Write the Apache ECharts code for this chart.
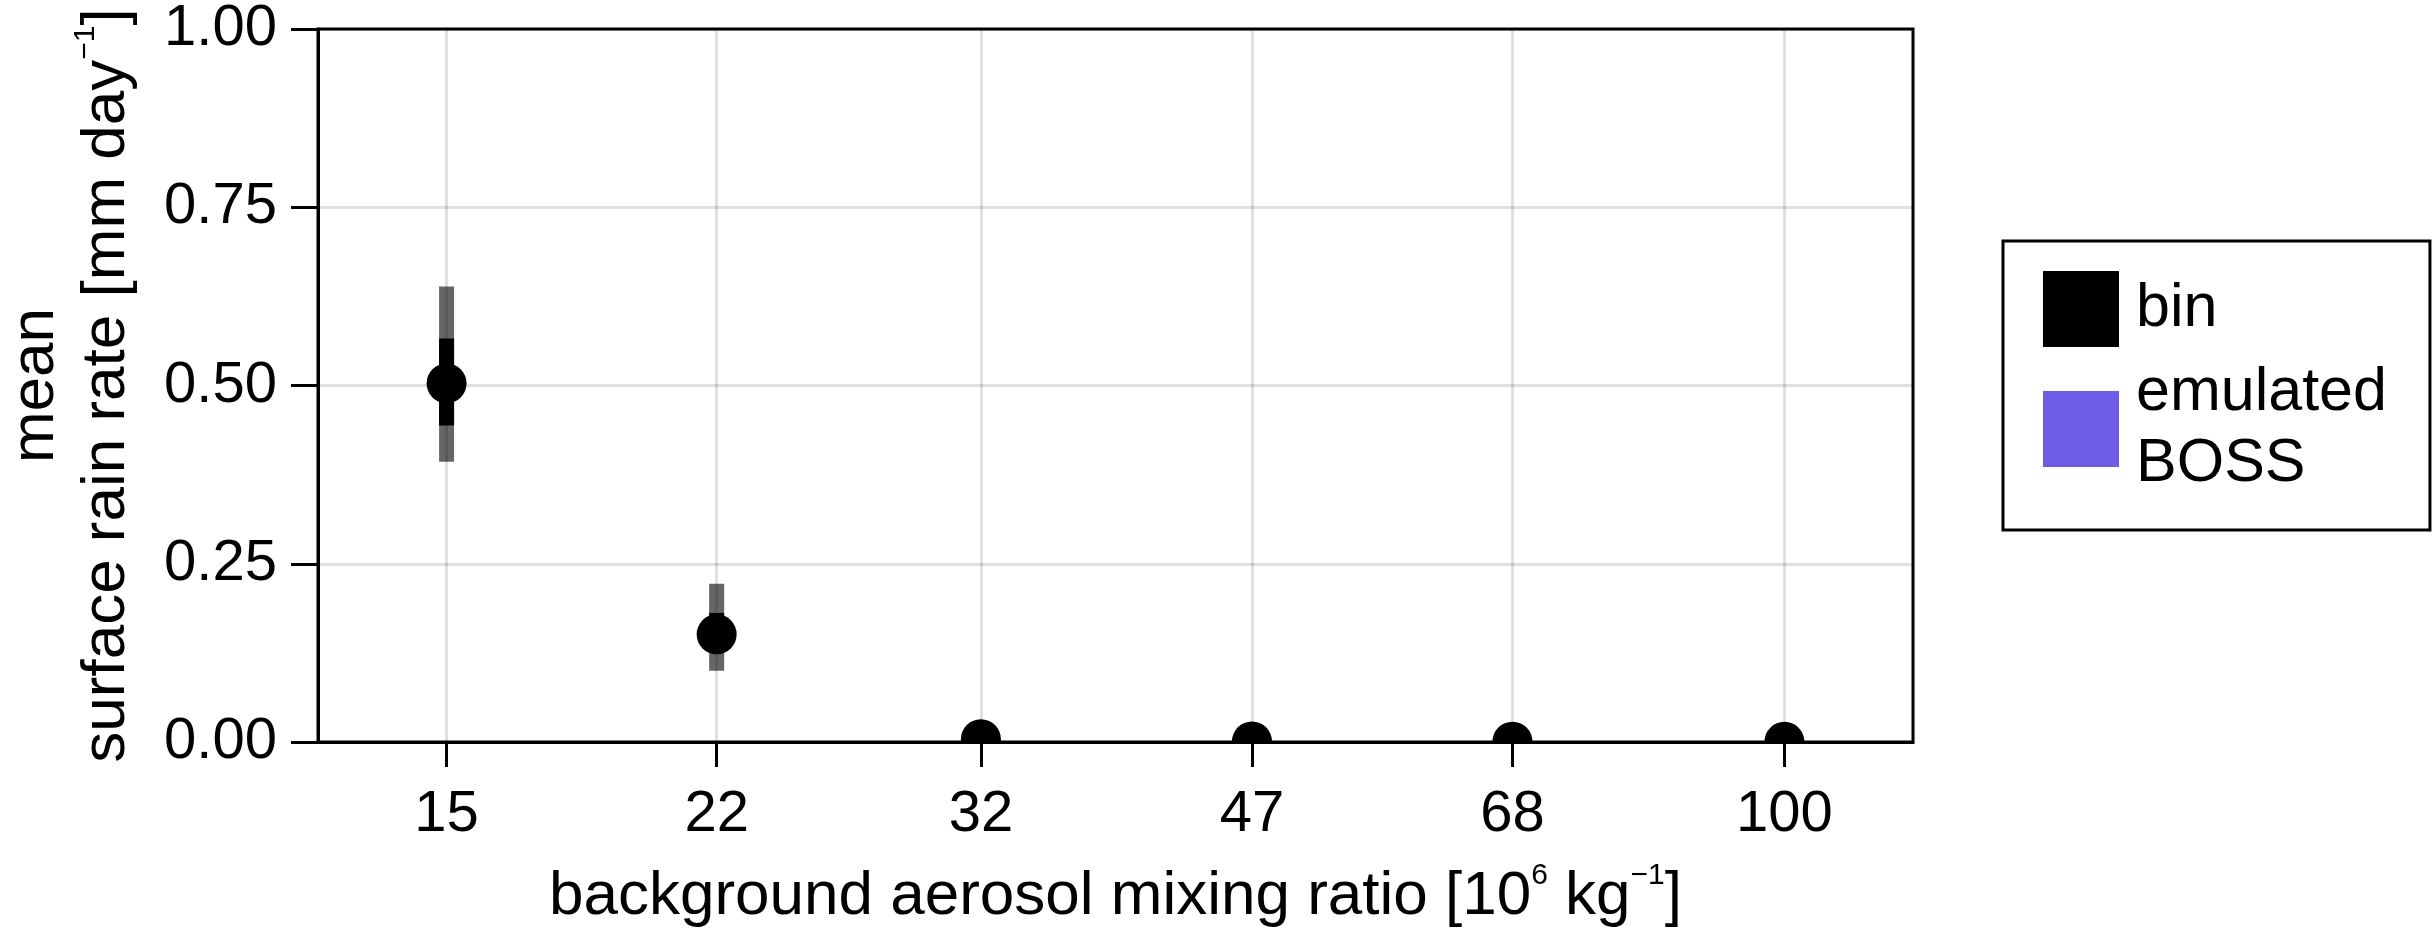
<!DOCTYPE html>
<html><head><meta charset="utf-8">
<script src="https://cdn.jsdelivr.net/npm/echarts@6/dist/echarts.min.js"></script>
<style>html,body{margin:0;padding:0;background:#fff}#c{width:2435px;height:929px}</style>
</head><body><div id="c"></div>
<script>
// ---- data ----
const aerosol = [15, 22, 32, 47, 68, 100];
const xTickLabels = [15, 22, 32, 47, 68, 100];
const binMean    = [0.503, 0.151, 0.004, 0.0008, 0.0005, 0.0003];
const binOuterLo = [0.393, 0.100, 0.001, 0.0, 0.0, 0.0];
const binOuterHi = [0.639, 0.222, 0.008, 0.002, 0.001, 0.001];
const binInnerLo = [0.444, 0.125, 0.002, 0.0, 0.0, 0.0];
const binInnerHi = [0.566, 0.181, 0.006, 0.0015, 0.001, 0.0008];
const emulatedBOSS = [];
const xRange = [12.5, 120];
const yRange = [0, 1];
const yInterval = 0.25;

const FONT = 'Liberation Sans, Arial, Helvetica, sans-serif';
const log10 = Math.log10;

const binData = aerosol.map((a, i) => [log10(a), binMean[i], binOuterLo[i], binOuterHi[i], binInnerLo[i], binInnerHi[i]]);

const nameRich = {
  sup: {fontFamily: FONT, fontSize: 30, lineHeight: 47, verticalAlign: 'top', color: '#000'}
};

const chart = echarts.init(document.getElementById('c'), null, {renderer: 'canvas'});
chart.setOption({
  animation: false,
  backgroundColor: '#fff',
  textStyle: {fontFamily: FONT},
  grid: {left: 318, top: 29, width: 1595, height: 713, show: true, borderColor: '#000', borderWidth: 3, backgroundColor: 'transparent', containLabel: false, outerBoundsMode: 'none'},
  legend: {
    orient: 'vertical', left: 2003, top: 241,
    itemWidth: 76, itemHeight: 76, itemGap: 9,
    padding: [30, 43, 28, 40],
    borderColor: '#000', borderWidth: 3, borderRadius: 0,
    selectedMode: false,
    icon: 'rect',
    formatter: n => n.replace(' ', '\n'),
    textStyle: {fontFamily: FONT, fontSize: 61, lineHeight: 71, color: '#000', padding: [4, 0, 0, 12]},
    data: [
      {name: 'bin', icon: 'rect', itemStyle: {color: '#000', opacity: 1}},
      {name: 'emulated BOSS', icon: 'rect', itemStyle: {color: '#6c5ce6', opacity: 1}}
    ]
  },
  xAxis: {
    type: 'value', min: log10(xRange[0]), max: log10(xRange[1]),
    axisLine: {show: true, lineStyle: {color: '#000', width: 3}},
    axisTick: {show: true, customValues: xTickLabels.map(log10), length: 25, lineStyle: {color: '#000', width: 3}},
    axisLabel: {customValues: xTickLabels.map(log10), formatter: v => String(Math.round(Math.pow(10, v))), fontFamily: FONT, fontSize: 58, lineHeight: 71, color: '#000', margin: 37},
    splitLine: {show: true, lineStyle: {color: 'rgba(0,0,0,0.12)', width: 3}},
    name: 'background aerosol mixing ratio [10{sup|6} kg{sup|\u22121}]',
    nameLocation: 'middle', nameGap: 119,
    nameTextStyle: {fontFamily: FONT, fontSize: 62, lineHeight: 71, color: '#000', rich: nameRich}
  },
  yAxis: {
    type: 'value', min: yRange[0], max: yRange[1], interval: yInterval,
    axisLine: {show: true, lineStyle: {color: '#000', width: 3}},
    axisTick: {show: true, length: 27, lineStyle: {color: '#000', width: 3}},
    axisLabel: {formatter: v => v.toFixed(2), fontFamily: FONT, fontSize: 58, color: '#000', margin: 41},
    splitLine: {show: true, lineStyle: {color: 'rgba(0,0,0,0.12)', width: 3}},
    name: 'mean\nsurface rain rate [mm day{sup|\u22121}]',
    nameLocation: 'middle', nameGap: 176,
    nameTextStyle: {fontFamily: FONT, fontSize: 62, lineHeight: 71, color: '#000', align: 'center', rich: nameRich}
  },
  series: [
    {
      name: 'bin', type: 'custom', clip: true,
      itemStyle: {color: '#000'},
      data: binData,
      encode: {x: 0, y: 1},
      renderItem: function (params, api) {
        const x = api.value(0);
        const p = api.coord([x, api.value(1)]);
        const oLo = api.coord([x, api.value(2)]), oHi = api.coord([x, api.value(3)]);
        const iLo = api.coord([x, api.value(4)]), iHi = api.coord([x, api.value(5)]);
        const w = 15;
        return {type: 'group', children: [
          {type: 'rect', shape: {x: p[0] - w / 2, y: oHi[1], width: w, height: oLo[1] - oHi[1]}, style: {fill: 'rgba(0,0,0,0.6)'}},
          {type: 'rect', shape: {x: p[0] - w / 2, y: iHi[1], width: w, height: iLo[1] - iHi[1]}, style: {fill: '#000'}},
          {type: 'circle', shape: {cx: p[0], cy: p[1], r: 20}, style: {fill: '#000'}}
        ]};
      }
    },
    {
      name: 'emulated BOSS', type: 'scatter', itemStyle: {color: '#6c5ce6', opacity: 1},
      data: emulatedBOSS
    }
  ]
});
</script></body></html>
